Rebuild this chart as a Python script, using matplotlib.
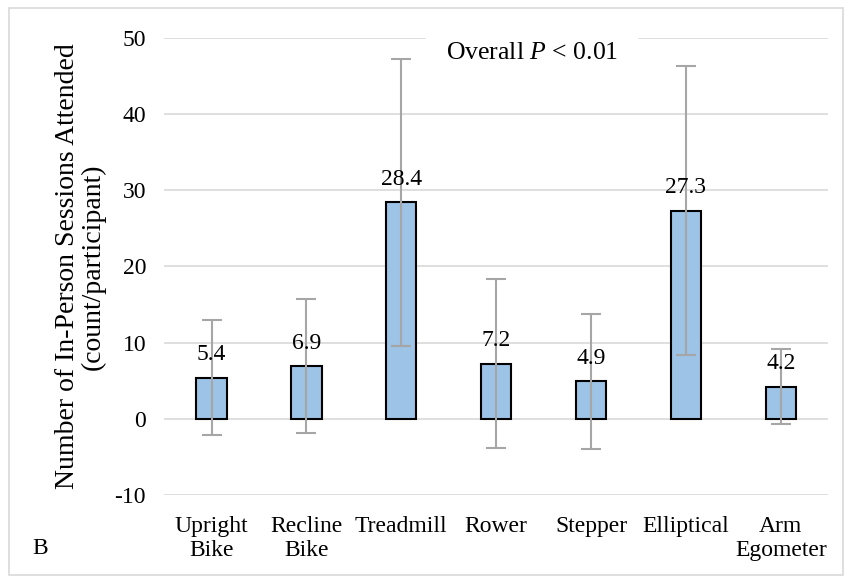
import matplotlib
matplotlib.use("Agg")
import matplotlib.pyplot as plt
from matplotlib.patches import Rectangle
import numpy as np

plt.rcParams["font.family"] = "Liberation Serif"
plt.rcParams["mathtext.fontset"] = "custom"
plt.rcParams["mathtext.rm"] = "Liberation Serif"
plt.rcParams["mathtext.it"] = "Liberation Serif:italic"

categories = ["Upright\nBike", "Recline\nBike", "Treadmill", "Rower",
              "Stepper", "Elliptical", "Arm\nEgometer"]
means = [5.4, 6.9, 28.4, 7.2, 4.9, 27.3, 4.2]
sds = [7.6, 8.8, 18.8, 11.1, 8.9, 19.0, 4.9]

bar_color = "#9DC3E6"
err_color = "#A6A6A6"
grid_color = "#D9D9D9"
fs = 17

fig = plt.figure(figsize=(8.46, 5.76), dpi=100)
fig.patches.append(Rectangle((0.011, 0.002), 0.986, 0.984, transform=fig.transFigure,
                             fill=False, edgecolor=grid_color, linewidth=1.2))
ax = fig.add_axes([0.194, 0.141, 0.785, 0.793])

x = np.arange(len(categories))
ax.bar(x, means, width=0.32, color=bar_color, edgecolor="black", linewidth=1.5, zorder=2)
ax.errorbar(x, means, yerr=sds, fmt="none", ecolor=err_color, elinewidth=1.5,
            capsize=7, capthick=1.5, zorder=3)
for xi, m in zip(x, means):
    ax.annotate(f"{m:.1f}", (xi, m), xytext=(0, 9), textcoords="offset points",
                ha="center", va="bottom", fontsize=fs, zorder=4)

ax.set_xlim(-0.5, len(categories) - 0.5)
ax.set_ylim(-10, 50)
ax.set_yticks(range(-10, 51, 10))
ax.set_yticklabels([str(v) for v in range(-10, 51, 10)])
ax.set_xticks(x)
ax.set_xticklabels(categories, fontsize=fs, linespacing=1.22)
ax.tick_params(axis="y", labelsize=fs, length=0, pad=13)
ax.tick_params(axis="x", length=0, pad=15)
ax.yaxis.grid(True, color=grid_color, linewidth=1.2, zorder=0)
ax.set_axisbelow(True)
for s in ax.spines.values():
    s.set_visible(False)

ax.set_ylabel("Number of In-Person Sessions Attended\n(count/participant)",
              fontsize=20, labelpad=6, linespacing=1.08)

ax.text(0.554, 47.2, "Overall $P$ < 0.01", transform=ax.get_yaxis_transform(),
        ha="center", va="baseline", fontsize=18.5, zorder=5,
        bbox=dict(facecolor="white", edgecolor="none", pad=14))
fig.text(0.047, 0.047, "B", fontsize=fs, ha="center", va="center")

fig.savefig("out.png", dpi=100)
